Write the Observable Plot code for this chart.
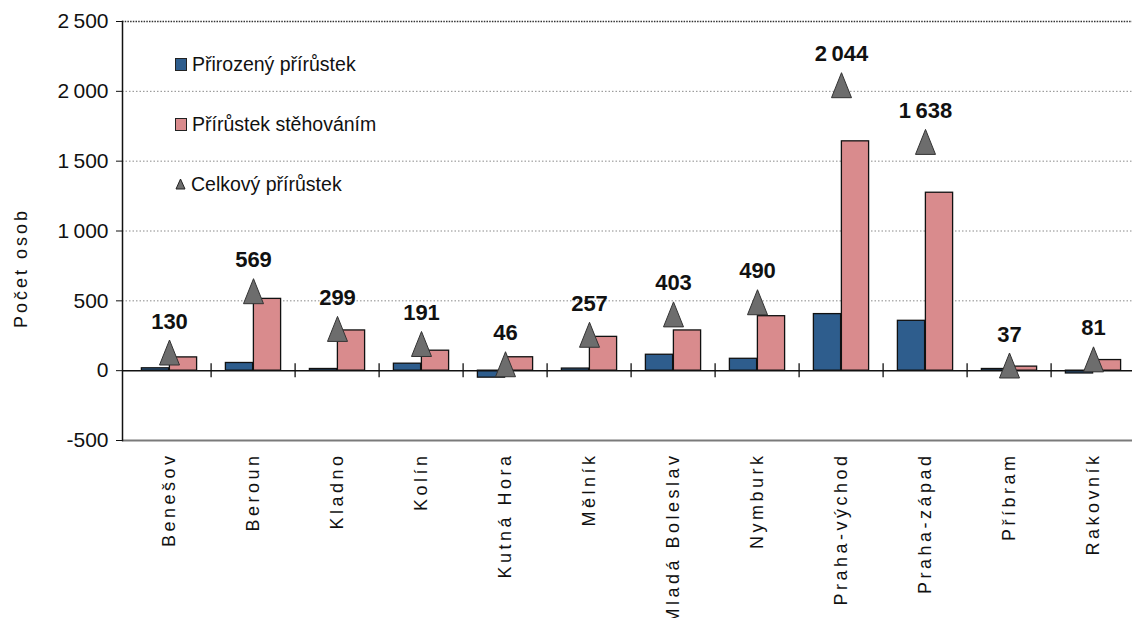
<!DOCTYPE html>
<html>
<head>
<meta charset="utf-8">
<script src="https://cdn.jsdelivr.net/npm/d3@7"></script>
<script src="https://cdn.jsdelivr.net/npm/@observablehq/plot@0.6"></script>
<style>
  html, body { margin: 0; padding: 0; background: #fff; }
  #wrap { position: relative; width: 1132px; height: 618px; overflow: hidden; }
  #wrap svg { display: block; }
  g[aria-label="x-axis tick label"] {
    font-family: "Liberation Sans", Arial, sans-serif;
    font-size: 18px;
    letter-spacing: 3.5px;
  }
  g[aria-description="ylabel"] {
    font-family: "Liberation Sans", Arial, sans-serif;
    font-size: 18px;
    letter-spacing: 3px;
  }
  #legend { position: absolute; left: 175px; top: 0; font-family: "Liberation Sans", Arial, sans-serif; font-size: 19.5px; color: #111; }
  #legend .item { position: absolute; left: 0; white-space: nowrap; height: 24px; line-height: 24px; display: flex; align-items: center; }
  #legend .sw { display: inline-block; width: 10px; height: 11px; border: 1px solid #222; margin-right: 5px; }
</style>
</head>
<body>
<div id="wrap"></div>
<script>
const categories = ["Benešov","Beroun","Kladno","Kolín","Kutná Hora","Mělník","Mladá Boleslav","Nymburk","Praha-východ","Praha-západ","Příbram","Rakovník"];
const natural   = [17, 55, 12, 50, -50, 15, 114, 85, 405, 357, 12, -20];
const migration = [95, 514, 288, 143, 96, 242, 288, 390, 1642, 1274, 29, 76];
const total     = [130, 569, 299, 191, 46, 257, 403, 490, 2044, 1638, 37, 81];
const yTicks = [-500, 0, 500, 1000, 1500, 2000, 2500];
const seriesNames = ["Přirozený přírůstek", "Přírůstek stěhováním", "Celkový přírůstek"];

const blue = "#2E5D8D", pink = "#D98B8D", gray = "#6D6D6D";
const rows = categories.map((c, i) => ({cat: c, nat: natural[i], mig: migration[i], tot: total[i]}));

const loc = d3.formatLocale({decimal: ",", thousands: "\u2009", grouping: [3], currency: ["", ""], minus: "-"});
const fmt = loc.format(",d");

const tri = {
  draw(ctx, size) {
    const s = Math.sqrt(size / Math.PI);
    ctx.moveTo(0, -1.25 * s);
    ctx.lineTo(s, 1.25 * s);
    ctx.lineTo(-s, 1.25 * s);
    ctx.closePath();
  }
};

const band = (1140 - 122.5) / categories.length;
const barW = 28;
const outer = band / 2 - barW;

const chart = Plot.plot({
  width: 1132, height: 618,
  marginLeft: 122, marginRight: 0, marginTop: 21, marginBottom: 178,
  style: {fontFamily: '"Liberation Sans", Arial, sans-serif', color: "#111", background: "white"},
  x: {domain: categories, range: [122.5, 1140], padding: 0, label: null},
  y: {domain: [-500, 2500], label: null},
  marks: [
    Plot.ruleY([500, 1000, 1500, 2000], {stroke: "#8a8a8a", strokeDasharray: "1.5 2", strokeWidth: 1}),
    Plot.ruleY([2500], {stroke: "#333", strokeDasharray: "1.5 1.2", strokeWidth: 1.6}),
    Plot.ruleY([-500], {stroke: "#7a7a7a", strokeWidth: 2}),
    Plot.barY(rows, {x: "cat", y: "nat", fill: blue, stroke: "#111", strokeWidth: 1.3, insetLeft: outer, insetRight: band / 2}),
    Plot.barY(rows, {x: "cat", y: "mig", fill: pink, stroke: "#111", strokeWidth: 1.3, insetLeft: band / 2, insetRight: outer}),
    Plot.ruleY([0], {stroke: "#111", strokeWidth: 1.5}),
    Plot.ruleX(categories.slice(1), {x: d => d, y1: -50, y2: 50, dx: -band / 2, stroke: "#111", strokeWidth: 1.3}),
    Plot.dot(rows, {x: "cat", y: "tot", symbol: tri, r: 10, fill: gray, stroke: "#333", strokeWidth: 1}),
    Plot.text(rows, {x: "cat", y: "tot", text: d => fmt(d.tot), dy: -31, fontSize: 22, fontWeight: "bold", fill: "#111"}),
    Plot.axisY({ticks: yTicks, tickSize: 6, tickPadding: 8, tickFormat: fmt, fontSize: 21, label: null, stroke: "#111"}),
    Plot.axisX({tickSize: 0, tickRotate: -90, tickPadding: 12, fontSize: 18, label: null}),
    Plot.frame({anchor: "left", stroke: "#111", strokeWidth: 1.5}),
    Plot.text(["Počet osob"], {text: d => d, frameAnchor: "left", textAnchor: "middle", dx: -101, dy: 37, rotate: -90, fontSize: 18, fill: "#111", ariaDescription: "ylabel"})
  ]
});

const wrap = document.getElementById("wrap");
wrap.appendChild(chart);

const legend = document.createElement("div");
legend.id = "legend";
const tops = [52, 112, 172];
const swatches = [
  `<span class="sw" style="background:${blue}"></span>`,
  `<span class="sw" style="background:${pink}"></span>`,
  `<svg width="11" height="12" style="margin-right:5px"><path d="M5.5 1 L10 11 L1 11 Z" fill="${gray}" stroke="#222" stroke-width="1"/></svg>`
];
seriesNames.forEach((name, i) => {
  const it = document.createElement("div");
  it.className = "item";
  it.style.top = tops[i] + "px";
  it.innerHTML = swatches[i] + `<span>${name}</span>`;
  legend.appendChild(it);
});
wrap.appendChild(legend);
</script>
</body>
</html>
